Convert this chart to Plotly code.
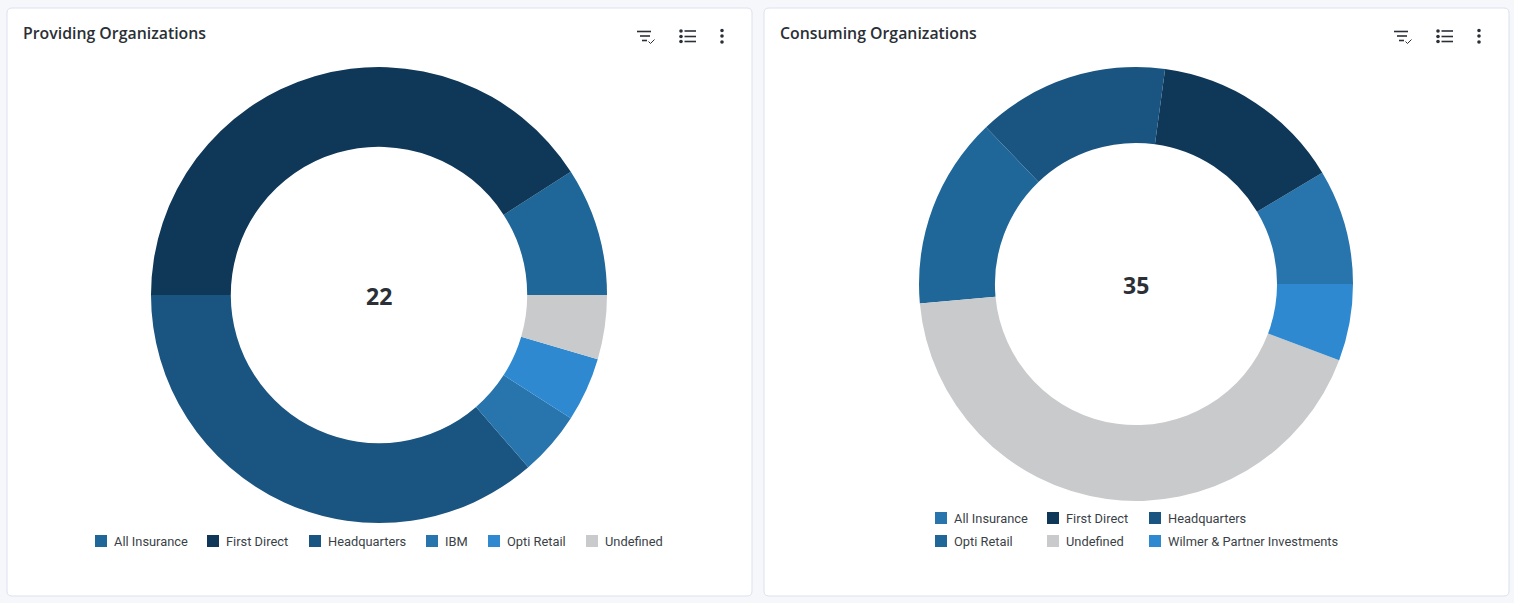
import plotly.graph_objects as go

WIDTH = 1514
HEIGHT = 603

PROV_NAMES = ["All Insurance", "First Direct", "Headquarters", "IBM", "Opti Retail", "Undefined"]
PROV_VALUES = [2, 9, 8, 1, 1, 1]
PROV_COLORS = ["#1f6699", "#0f3758", "#1a5480", "#2874ad", "#2e89d0", "#c9cacc"]
PROV_TOTAL = "22"

CONS_NAMES = ["All Insurance", "First Direct", "Headquarters", "Opti Retail", "Undefined", "Wilmer & Partner Investments"]
CONS_VALUES = [3, 5, 5, 5, 15, 2]
CONS_COLORS = ["#2874ad", "#0f3758", "#1a5480", "#1f6699", "#c9cacc", "#2e89d0"]
CONS_TOTAL = "35"

# legend layout, page pixels: swatch left edge and row centre per entry
PROV_LEGEND_X = [95, 207, 309, 426, 488, 586]
PROV_LEGEND_Y = [541, 541, 541, 541, 541, 541]
CONS_LEGEND_X = [935, 1047, 1149, 935, 1047, 1149]
CONS_LEGEND_Y = [518, 518, 518, 541, 541, 541]

TEXT = "#2b2f36"
FONT = "Roboto"


def px(x):
    return x / WIDTH


def py(y):
    return 1 - y / HEIGHT


def rounded_card(x0, y0, x1, y1, r=5):
    path = (
        f"M{px(x0 + r)},{py(y0)} L{px(x1 - r)},{py(y0)} Q{px(x1)},{py(y0)} {px(x1)},{py(y0 + r)} "
        f"L{px(x1)},{py(y1 - r)} Q{px(x1)},{py(y1)} {px(x1 - r)},{py(y1)} "
        f"L{px(x0 + r)},{py(y1)} Q{px(x0)},{py(y1)} {px(x0)},{py(y1 - r)} "
        f"L{px(x0)},{py(y0 + r)} Q{px(x0)},{py(y0)} {px(x0 + r)},{py(y0)} Z"
    )
    return dict(type="path", xref="paper", yref="paper", path=path, fillcolor="white",
                line=dict(color="#dde1f0", width=1), layer="below")


def seg(x0, y0, x1, y1, width=1.6):
    return dict(type="line", xref="paper", yref="paper", x0=px(x0), y0=py(y0), x1=px(x1), y1=py(y1),
                line=dict(color="#2b2f36", width=width))


def dot(x, y, r=1.8):
    return dict(type="circle", xref="paper", yref="paper", x0=px(x - r), x1=px(x + r),
                y0=py(y - r), y1=py(y + r), fillcolor="#2b2f36", line=dict(width=0))


def icons(dx):
    items = [
        seg(637 + dx, 31.5, 651 + dx, 31.5),
        seg(640 + dx, 36, 650 + dx, 36),
        seg(642 + dx, 40.5, 647 + dx, 40.5),
        seg(648.5 + dx, 41.5, 650.5 + dx, 43.5, 1),
        seg(650.5 + dx, 43.5, 654.5 + dx, 39.5, 1),
    ]
    for y in [31, 36.5, 41.5]:
        items.append(dot(681 + dx, y))
        items.append(seg(684.5 + dx, y, 696 + dx, y))
    for y in [30.5, 36, 42]:
        items.append(dot(722 + dx, y))
    return items


def legend_parts(names, colors, xs, ys):
    shapes, notes = [], []
    for name, color, x, y in zip(names, colors, xs, ys):
        shapes.append(dict(type="rect", xref="paper", yref="paper", x0=px(x), x1=px(x + 12),
                           y0=py(y - 6), y1=py(y + 6), fillcolor=color, line=dict(width=0)))
        notes.append(dict(text=name, xref="paper", yref="paper", x=px(x + 17), y=py(y), showarrow=False,
                          xanchor="left", yanchor="middle", font=dict(family=FONT, size=12.85, color="#3a3f47")))
    return shapes, notes


def donut(names, values, colors, x0, x1, y0, y1):
    # first slice ends at 3 o'clock, the rest run on counterclockwise
    rotation = 90 - 360 * values[0] / sum(values)
    return go.Pie(
        labels=names,
        values=values,
        marker=dict(colors=colors, line=dict(width=0)),
        hole=0.65,
        sort=False,
        direction="counterclockwise",
        rotation=rotation,
        textinfo="none",
        showlegend=False,
        domain=dict(x=[px(x0), px(x1)], y=[py(y1), py(y0)]),
    )


fig = go.Figure()
fig.add_trace(donut(PROV_NAMES, PROV_VALUES, PROV_COLORS, 151, 607, 67, 523))
fig.add_trace(donut(CONS_NAMES, CONS_VALUES, CONS_COLORS, 919, 1353, 67, 501))

shapes = [rounded_card(7, 8, 752, 596), rounded_card(764, 8, 1509, 596)]
shapes += icons(0) + icons(757)
annotations = []
for parts in [legend_parts(PROV_NAMES, PROV_COLORS, PROV_LEGEND_X, PROV_LEGEND_Y),
              legend_parts(CONS_NAMES, CONS_COLORS, CONS_LEGEND_X, CONS_LEGEND_Y)]:
    shapes += parts[0]
    annotations += parts[1]

for title, x in [("Providing Organizations", 21), ("Consuming Organizations", 778)]:
    annotations.append(dict(text=title, xref="paper", yref="paper", x=px(x), y=py(33), showarrow=False,
                            xanchor="left", yanchor="middle",
                            font=dict(family="Open Sans", size=15.85, weight=600, color=TEXT)))
for total, x, y in [(PROV_TOTAL, 379, 296), (CONS_TOTAL, 1136, 285)]:
    annotations.append(dict(text=f"<b>{total}</b>", xref="paper", yref="paper", x=px(x), y=py(y), showarrow=False,
                            xanchor="center", yanchor="middle", font=dict(family="Noto Sans", size=23, color=TEXT)))

fig.update_layout(
    width=WIDTH,
    height=HEIGHT,
    margin=dict(l=0, r=0, t=0, b=0),
    paper_bgcolor="#f6f7fb",
    plot_bgcolor="#f6f7fb",
    shapes=shapes,
    annotations=annotations,
)

fig.write_html("out.html", config={"displayModeBar": False},
               post_script="document.body.style.margin='0';document.body.style.overflow='hidden';")
